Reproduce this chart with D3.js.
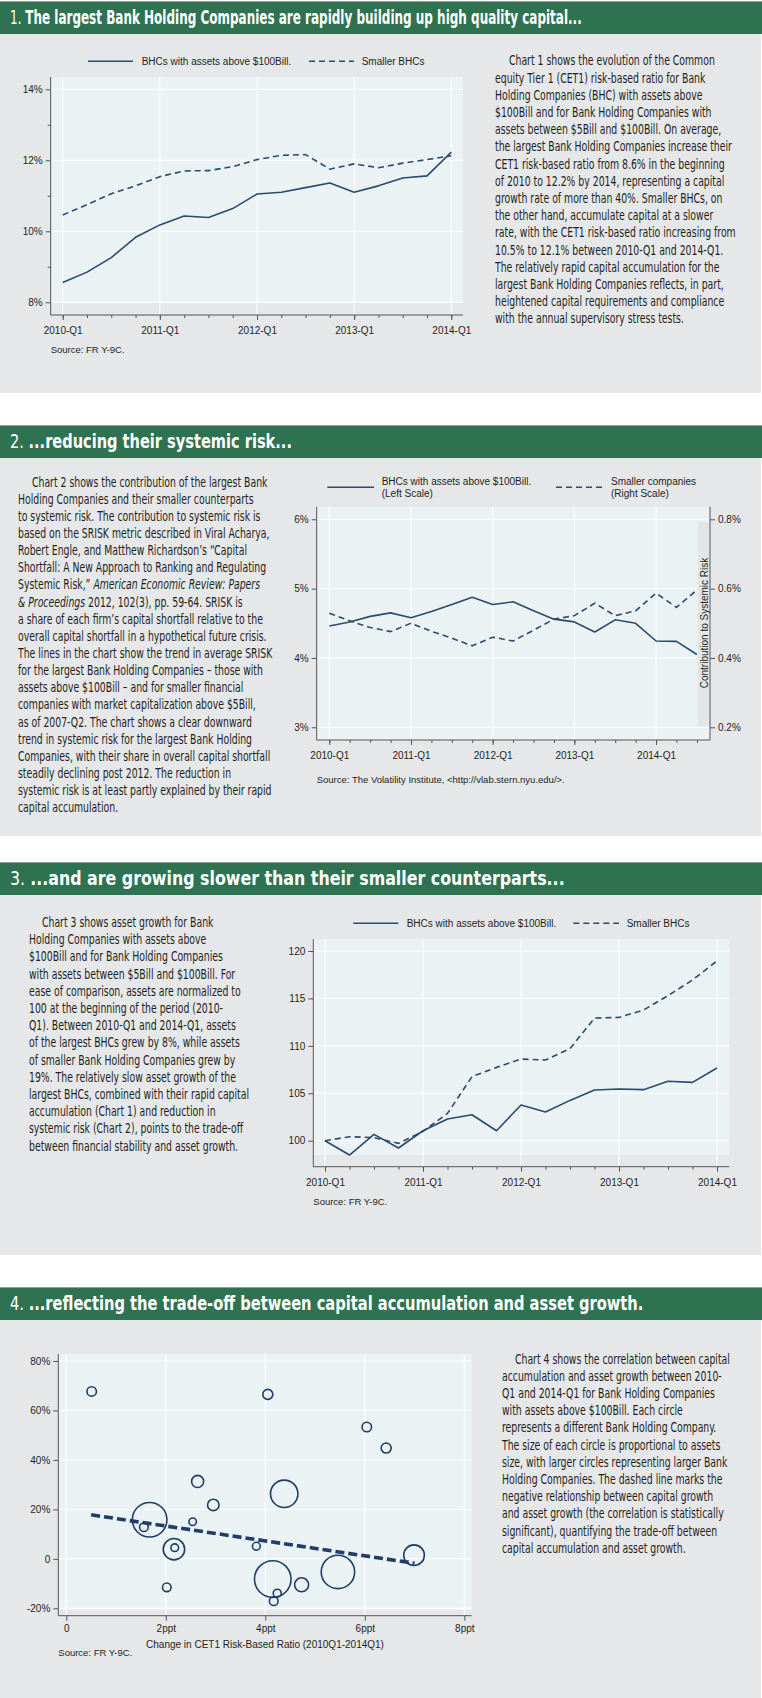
<!DOCTYPE html>
<html>
<head>
<meta charset="utf-8">
<script src="https://cdn.jsdelivr.net/npm/d3@7"></script>
<style>
  body { margin: 0; background: #fff; }
  svg { display: block; }
</style>
</head>
<body>
<svg id="page" width="762" height="1698"></svg>
<script>

// ---- data ----
var quarters = ['2010-Q1','2010-Q2','2010-Q3','2010-Q4','2011-Q1','2011-Q2','2011-Q3','2011-Q4',
  '2012-Q1','2012-Q2','2012-Q3','2012-Q4','2013-Q1','2013-Q2','2013-Q3','2013-Q4',
  '2014-Q1','2014-Q2','2014-Q3'];
var yearTicks1 = ['2010-Q1','2011-Q1','2012-Q1','2013-Q1','2014-Q1'];

// chart 1: CET1 risk-based ratio (%)
var cet1Large = [8.56, 8.85, 9.26, 9.83, 10.18, 10.43, 10.39, 10.64, 11.05, 11.10, 11.23, 11.36, 11.10, 11.28, 11.50, 11.56, 12.23];
var cet1Small = [10.46, 10.75, 11.06, 11.28, 11.54, 11.70, 11.71, 11.82, 12.02, 12.14, 12.16, 11.75, 11.90, 11.79, 11.92, 12.02, 12.13];
var cet1Ticks = [8, 10, 12, 14];
var cet1Minor = [9, 11, 13];

// chart 2: SRISK (left: large BHCs %, right: smaller companies %)
var sriskLarge = [4.46, 4.52, 4.60, 4.65, 4.58, 4.67, 4.77, 4.875, 4.77, 4.81, 4.68, 4.56, 4.52, 4.375, 4.55, 4.50, 4.245, 4.24, 4.05];
var sriskSmall = [0.529, 0.507, 0.488, 0.476, 0.500, 0.477, 0.457, 0.435, 0.460, 0.449, 0.480, 0.512, 0.522, 0.558, 0.522, 0.536, 0.587, 0.546, 0.596];
var sriskLeftTicks = [3, 4, 5, 6];
var sriskRightTicks = [0.2, 0.4, 0.6, 0.8];

// chart 3: assets, 2010-Q1 = 100
var assetsLarge = [100.0, 98.49, 100.67, 99.23, 101.05, 102.28, 102.74, 101.05, 103.76, 103.02, 104.25, 105.34, 105.45, 105.38, 106.26, 106.15, 107.66];
var assetsSmall = [100.0, 100.42, 100.32, 99.72, 100.98, 102.88, 106.75, 107.73, 108.61, 108.51, 109.70, 112.93, 113.00, 113.78, 115.29, 116.94, 118.95];
var assetTicks = [100, 105, 110, 115, 120];

// chart 4: change in CET1 (ppt), asset growth (%), assets ($Bill)
var bubbleCet1 = [0.51, 4.05, 6.04, 6.43, 2.64, 4.38, 2.955, 1.675, 2.54, 1.56, 2.164, 2.18, 3.82, 6.99, 5.46, 4.15, 4.73, 4.24, 4.17, 2.02];
var bubbleGrowth = [67.7, 66.5, 53.3, 44.8, 31.3, 26.3, 21.8, 15.8, 15.0, 12.8, 3.9, 4.5, 5.1, 1.5, -5.3, -8.2, -10.5, -13.9, -17.1, -11.5];
var bubbleAssets = [160, 180, 160, 180, 260, 1345, 235, 2145, 100, 135, 820, 105, 110, 760, 2000, 2400, 350, 115, 135, 135];
var fitCet1 = [0.5, 7.0];
var fitGrowth = [17.8, -1.8];
var bubbleXTicks = [0, 2, 4, 6, 8];
var bubbleYTicks = [-20, 0, 20, 40, 60, 80];

// ---- text ----
var titleNums = ['1.', '2.', '3.', '4.'];
var titleTexts = [
  'The largest Bank Holding Companies are rapidly building up high quality capital...',
  '...reducing their systemic risk...',
  '...and are growing slower than their smaller counterparts...',
  '...reflecting the trade-off between capital accumulation and asset growth.'
];

var text1 = [
  'Chart 1 shows the evolution of the Common',
  'equity Tier 1 (CET1) risk-based ratio for Bank',
  'Holding Companies (BHC) with assets above',
  '$100Bill and for Bank Holding Companies with',
  'assets between $5Bill and $100Bill. On average,',
  'the largest Bank Holding Companies increase their',
  'CET1 risk-based ratio from 8.6% in the beginning',
  'of 2010 to 12.2% by 2014, representing a capital',
  'growth rate of more than 40%. Smaller BHCs, on',
  'the other hand, accumulate capital at a slower',
  'rate, with the CET1 risk-based ratio increasing from',
  '10.5% to 12.1% between 2010-Q1 and 2014-Q1.',
  'The relatively rapid capital accumulation for the',
  'largest Bank Holding Companies reflects, in part,',
  'heightened capital requirements and compliance',
  'with the annual supervisory stress tests.'
];
var text2 = [
  'Chart 2 shows the contribution of the largest Bank',
  'Holding Companies and their smaller counterparts',
  'to systemic risk. The contribution to systemic risk is',
  'based on the SRISK metric described in Viral Acharya,',
  'Robert Engle, and Matthew Richardson\u2019s \u201cCapital',
  'Shortfall: A New Approach to Ranking and Regulating',
  'Systemic Risk,\u201d _American Economic Review: Papers_',
  '_& Proceedings_ 2012, 102(3), pp. 59-64. SRISK is',
  'a share of each firm\u2019s capital shortfall relative to the',
  'overall capital shortfall in a hypothetical future crisis.',
  'The lines in the chart show the trend in average SRISK',
  'for the largest Bank Holding Companies \u2013 those with',
  'assets above $100Bill \u2013 and for smaller financial',
  'companies with market capitalization above $5Bill,',
  'as of 2007-Q2. The chart shows a clear downward',
  'trend in systemic risk for the largest Bank Holding',
  'Companies, with their share in overall capital shortfall',
  'steadily declining post 2012. The reduction in',
  'systemic risk is at least partly explained by their rapid',
  'capital accumulation.'
];
var text3 = [
  'Chart 3 shows asset growth for Bank',
  'Holding Companies with assets above',
  '$100Bill and for Bank Holding Companies',
  'with assets between $5Bill and $100Bill. For',
  'ease of comparison, assets are normalized to',
  '100 at the beginning of the period (2010-',
  'Q1). Between 2010-Q1 and 2014-Q1, assets',
  'of the largest BHCs grew by 8%, while assets',
  'of smaller Bank Holding Companies grew by',
  '19%. The relatively slow asset growth of the',
  'largest BHCs, combined with their rapid capital',
  'accumulation (Chart 1) and reduction in',
  'systemic risk (Chart 2), points to the trade-off',
  'between financial stability and asset growth.'
];
var text4 = [
  'Chart 4 shows the correlation between capital',
  'accumulation and asset growth between 2010-',
  'Q1 and 2014-Q1 for Bank Holding Companies',
  'with assets above $100Bill. Each circle',
  'represents a different Bank Holding Company.',
  'The size of each circle is proportional to assets',
  'size, with larger circles representing larger Bank',
  'Holding Companies. The dashed line marks the',
  'negative relationship between capital growth',
  'and asset growth (the correlation is statistically',
  'significant), quantifying the trade-off between',
  'capital accumulation and asset growth.'
];

// ---- styles ----
var GREEN = '#2e7251', PANEL = '#e6e7e9', PLOTBG = '#ebf2f4', NAVY = '#2b4a70';
var INK = '#231f20', AXIS = '#555';
var BODY_FONT = '"Liberation Sans Narrow", "Arial Narrow", "DejaVu Sans Condensed", sans-serif';
var CHART_FONT = '"Liberation Sans", Arial, sans-serif';

var svg = d3.select('#page');

// panels and headers
var headerTops = [1, 425, 862, 1287];
var panelSpans = [[34, 393], [458, 836], [895, 1255], [1320, 1698]];
var titleWidths = [572, 282, 555, 634];

svg.selectAll('rect.panel').data(panelSpans).enter().append('rect')
  .attr('class', 'panel')
  .attr('x', 0).attr('y', function (d) { return d[0]; })
  .attr('width', 761).attr('height', function (d) { return d[1] - d[0]; })
  .attr('fill', PANEL);

headerTops.forEach(function (top, i) {
  svg.append('rect').attr('x', 0).attr('y', top).attr('width', 762).attr('height', 33).attr('fill', GREEN);
  svg.append('line').attr('x1', 0).attr('x2', 762).attr('y1', top + 0.5).attr('y2', top + 0.5)
    .attr('stroke', '#8ca596').attr('stroke-width', 1);
  var t = svg.append('text')
    .attr('fill', '#fff')
    .style('font-family', BODY_FONT)
    .style('font-size', '19px');
  t.append('tspan').style('font-weight', 'normal').text(titleNums[i] + ' ');
  t.append('tspan').style('font-weight', 'bold').text(titleTexts[i]);
  var k = titleWidths[i] / t.node().getComputedTextLength();
  t.attr('transform', 'translate(10,' + (top + 23) + ') scale(' + k + ',1)');
});

// body text blocks
var BODY_SIZE = 13.5;
var probe = svg.append('text').style('font-family', BODY_FONT).style('font-size', BODY_SIZE + 'px')
  .text('rate, with the CET1 risk-based ratio increasing from');
var squeeze = 241 / probe.node().getComputedTextLength();
probe.remove();

function textBlock(lines, x, indentX, y0, dy) {
  lines.forEach(function (line, i) {
    var t = svg.append('text')
      .attr('transform', 'translate(' + (i === 0 ? indentX : x) + ',' + (y0 + i * dy) + ') scale(' + squeeze + ',1)')
      .attr('fill', INK)
      .style('font-family', BODY_FONT)
      .style('font-size', BODY_SIZE + 'px');
    line.split('_').forEach(function (part, j) {
      if (part === '') return;
      t.append('tspan').style('font-style', j % 2 ? 'italic' : 'normal').text(part);
    });
  });
}

textBlock(text1, 495, 509, 65.3, 17.2);
textBlock(text2, 18, 32, 486.5, 17.15);
textBlock(text3, 29, 42, 927, 17.2);
textBlock(text4, 502, 515, 1363.5, 17.2);

// ---- chart helpers ----
function styleAxis(sel) {
  sel.select('.domain').remove();
  sel.selectAll('.tick line').attr('stroke', AXIS);
  sel.selectAll('.tick text').attr('fill', INK)
    .style('font-family', CHART_FONT).style('font-size', '10px');
}

function frame(g, c) {
  g.append('line').attr('x1', c.left).attr('x2', c.left).attr('y1', c.top).attr('y2', c.bottom)
    .attr('stroke', AXIS);
  g.append('line').attr('x1', c.left).attr('x2', c.right).attr('y1', c.bottom).attr('y2', c.bottom)
    .attr('stroke', AXIS);
}

function legendItem(g, x1, x2, y, dashed, labels, lx) {
  g.append('line').attr('x1', x1).attr('x2', x2).attr('y1', y).attr('y2', y)
    .attr('stroke', NAVY).attr('stroke-width', 1.5)
    .attr('stroke-dasharray', dashed ? '6,4' : null);
  labels.forEach(function (l, i) {
    g.append('text').attr('x', lx).attr('y', y + 3.5 + (i - (labels.length - 1) / 2) * 12)
      .attr('fill', INK).style('font-family', CHART_FONT).style('font-size', '10px').text(l);
  });
}

function sourceNote(g, x, y, txt) {
  g.append('text').attr('x', x).attr('y', y).attr('fill', INK)
    .style('font-family', CHART_FONT).style('font-size', '9.5px').text(txt);
}

function timeChart(c) {
  var g = svg.append('g');
  var cats = quarters.slice(0, c.n);
  var x = d3.scalePoint().domain(cats).range(c.xRange);
  var y = d3.scaleLinear().domain(c.yDomain).range(c.yRange);

  g.append('rect').attr('x', c.left).attr('y', c.top)
    .attr('width', c.right - c.left).attr('height', c.bgBottom - c.top).attr('fill', PLOTBG);

  g.selectAll('line.hg').data(c.yTicks).enter().append('line')
    .attr('x1', c.left).attr('x2', c.right)
    .attr('y1', function (d) { return y(d); }).attr('y2', function (d) { return y(d); })
    .attr('stroke', '#fff').attr('stroke-width', 1);
  g.selectAll('line.vg').data(yearTicks1).enter().append('line')
    .attr('x1', function (d) { return x(d); }).attr('x2', function (d) { return x(d); })
    .attr('y1', c.top).attr('y2', c.bottom)
    .attr('stroke', '#fff').attr('stroke-width', 1);

  if (c.extra) c.extra(g, x, y);

  frame(g, c);

  g.append('g').attr('transform', 'translate(' + c.left + ',0)')
    .call(d3.axisLeft(y).tickValues(c.yTicks).tickFormat(c.yFormat).tickSize(5).tickPadding(3))
    .call(styleAxis);
  if (c.yMinor) {
    g.append('g').attr('transform', 'translate(' + c.left + ',0)')
      .call(d3.axisLeft(y).tickValues(c.yMinor).tickFormat('').tickSize(3))
      .call(styleAxis);
  }
  g.append('g').attr('transform', 'translate(0,' + c.bottom + ')')
    .call(d3.axisBottom(x).tickValues(cats).tickFormat('').tickSize(3))
    .call(styleAxis);
  g.append('g').attr('transform', 'translate(0,' + c.bottom + ')')
    .call(d3.axisBottom(x).tickValues(yearTicks1).tickSize(5).tickPadding(7))
    .call(styleAxis);

  var series = [
    { values: c.solid, y: y, dash: null },
    { values: c.dashed, y: c.yDashed || y, dash: '6,4' }
  ];
  series.forEach(function (s) {
    var line = d3.line()
      .x(function (d, i) { return x(cats[i]); })
      .y(function (d) { return s.y(d); });
    g.append('path').datum(s.values).attr('d', line)
      .attr('fill', 'none').attr('stroke', NAVY).attr('stroke-width', 1.6)
      .attr('stroke-linejoin', 'round')
      .attr('stroke-dasharray', s.dash);
  });
  return { g: g, x: x, y: y };
}

function pct(d) { return d + '%'; }

// ---- chart 1 ----
var c1 = timeChart({
  n: 17, xRange: [62.7, 451.3], yDomain: [8, 14], yRange: [302.3, 89.3],
  left: 50.7, right: 463, top: 77, bottom: 315, bgBottom: 302.3,
  yTicks: cet1Ticks, yMinor: cet1Minor, yFormat: pct,
  solid: cet1Large, dashed: cet1Small
});
legendItem(c1.g, 88, 133, 61.3, false, ['BHCs with assets above $100Bill.'], 141.7);
legendItem(c1.g, 309, 354, 61.3, true, ['Smaller BHCs'], 361.7);
sourceNote(c1.g, 50.7, 352.5, 'Source: FR Y-9C.');

// ---- chart 2 ----
var yRight2 = d3.scaleLinear().domain([0.2, 0.8]).range([727.3, 519.3]);
var c2 = timeChart({
  n: 19, xRange: [329.3, 696.9], yDomain: [3, 6], yRange: [727.3, 519.3],
  left: 316.7, right: 710, top: 506.7, bottom: 740, bgBottom: 740,
  yTicks: sriskLeftTicks, yFormat: pct,
  solid: sriskLarge, dashed: sriskSmall, yDashed: yRight2,
  extra: function (g) {
    g.append('rect').attr('x', 697.7).attr('y', 521.7).attr('width', 12).attr('height', 205)
      .attr('fill', '#e4e5e7');
  }
});
c2.g.append('line').attr('x1', 710).attr('x2', 710).attr('y1', 506.7).attr('y2', 740).attr('stroke', AXIS);
c2.g.append('g').attr('transform', 'translate(710,0)')
  .call(d3.axisRight(yRight2).tickValues(sriskRightTicks)
    .tickFormat(function (d) { return d.toFixed(1) + '%'; }).tickSize(5).tickPadding(3))
  .call(styleAxis);
c2.g.append('text')
  .attr('transform', 'translate(708,623) rotate(-90)')
  .attr('text-anchor', 'middle').attr('fill', INK)
  .style('font-family', CHART_FONT).style('font-size', '10px')
  .text('Contribution to Systemic Risk');
legendItem(c2.g, 327.3, 374, 487.3, false, ['BHCs with assets above $100Bill.', '(Left Scale)'], 381.7);
legendItem(c2.g, 556, 603.3, 487.3, true, ['Smaller companies', '(Right Scale)'], 611);
sourceNote(c2.g, 316.7, 782.6, 'Source: The Volatility Institute, <http://vlab.stern.nyu.edu/>.');

// ---- chart 3 ----
var c3 = timeChart({
  n: 17, xRange: [325, 717], yDomain: [100, 120], yRange: [1140.7, 951],
  left: 313.3, right: 729.3, top: 939.3, bottom: 1166.7, bgBottom: 1155,
  yTicks: assetTicks, yFormat: function (d) { return d; },
  solid: assetsLarge, dashed: assetsSmall
});
legendItem(c3.g, 353.3, 398.3, 923.3, false, ['BHCs with assets above $100Bill.'], 406.7);
legendItem(c3.g, 573.3, 619, 923.3, true, ['Smaller BHCs'], 626.7);
sourceNote(c3.g, 313.3, 1205, 'Source: FR Y-9C.');

// ---- chart 4 ----
(function () {
  var c = { left: 58.3, right: 471.7, top: 1354, bottom: 1615.7 };
  var g = svg.append('g');
  var x = d3.scaleLinear().domain([0, 8]).range([66.3, 464.3]);
  var y = d3.scaleLinear().domain([-20, 80]).range([1608.3, 1361]);
  var r = d3.scaleSqrt().domain([0, 2400]).range([0, 18.3]);

  g.append('rect').attr('x', c.left).attr('y', c.top)
    .attr('width', c.right - c.left).attr('height', 1610 - c.top).attr('fill', PLOTBG);
  g.selectAll('line.hg').data(bubbleYTicks).enter().append('line')
    .attr('x1', c.left).attr('x2', c.right)
    .attr('y1', function (d) { return y(d); }).attr('y2', function (d) { return y(d); })
    .attr('stroke', '#fff');
  g.selectAll('line.vg').data(bubbleXTicks).enter().append('line')
    .attr('x1', function (d) { return x(d); }).attr('x2', function (d) { return x(d); })
    .attr('y1', c.top).attr('y2', c.bottom)
    .attr('stroke', '#fff');

  frame(g, c);
  g.append('g').attr('transform', 'translate(' + c.left + ',0)')
    .call(d3.axisLeft(y).tickValues(bubbleYTicks)
      .tickFormat(function (d) { return d === 0 ? '0' : d + '%'; }).tickSize(5).tickPadding(3))
    .call(styleAxis);
  g.append('g').attr('transform', 'translate(0,' + c.bottom + ')')
    .call(d3.axisBottom(x).tickValues(bubbleXTicks)
      .tickFormat(function (d) { return d === 0 ? '0' : d + 'ppt'; }).tickSize(5).tickPadding(4))
    .call(styleAxis);

  g.selectAll('circle.bubble').data(bubbleCet1).enter().append('circle')
    .attr('cx', function (d) { return x(d); })
    .attr('cy', function (d, i) { return y(bubbleGrowth[i]); })
    .attr('r', function (d, i) { return r(bubbleAssets[i]); })
    .attr('fill', 'none').attr('stroke', '#1f3d66').attr('stroke-width', 1.6);

  g.append('path')
    .datum(fitCet1)
    .attr('d', d3.line().x(function (d) { return x(d); }).y(function (d, i) { return y(fitGrowth[i]); }))
    .attr('fill', 'none').attr('stroke', '#1f3d66').attr('stroke-width', 3.6)
    .attr('stroke-dasharray', '9,4');

  g.append('text').attr('x', 265).attr('y', 1647.5).attr('text-anchor', 'middle')
    .attr('fill', INK).style('font-family', CHART_FONT).style('font-size', '10px')
    .text('Change in CET1 Risk-Based Ratio (2010Q1-2014Q1)');
  sourceNote(g, 58.3, 1655.5, 'Source: FR Y-9C.');
})();

</script>
</body>
</html>
